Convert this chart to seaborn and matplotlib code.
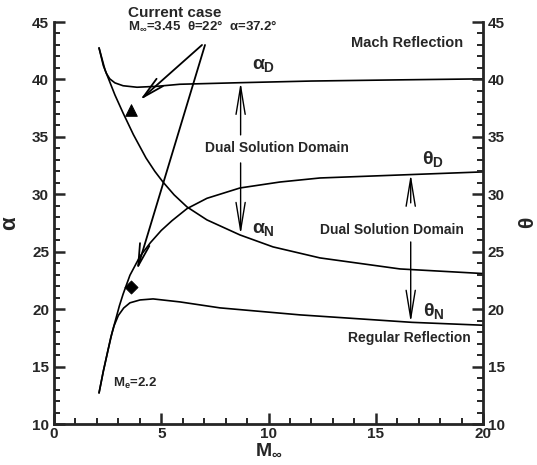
import matplotlib
matplotlib.use("Agg")
import matplotlib.pyplot as plt
from matplotlib.ticker import MultipleLocator
import seaborn as sns
import pandas as pd

# ---------------- data ----------------
alphaD_M = [2.10, 2.30, 2.45, 2.60, 2.84, 3.22, 3.87, 4.80, 5.87, 8.76, 12.0, 16.0, 20.0]
alphaD_v = [42.74, 41.20, 40.50, 40.05, 39.70, 39.45, 39.32, 39.40, 39.58, 39.72, 39.86, 39.96, 40.05]

alphaN_M = [2.10, 2.38, 2.84, 3.22, 3.70, 4.29, 4.70, 5.08, 5.60, 6.20, 7.13, 8.67, 10.21, 12.40, 16.13, 20.0]
alphaN_v = [42.74, 40.82, 38.65, 37.08, 35.20, 33.16, 32.00, 31.07, 29.95, 28.90, 27.77, 26.46, 25.42, 24.46, 23.50, 23.10]

thetaD_M = [2.10, 2.30, 2.52, 2.70, 2.89, 3.05, 3.22, 3.54, 4.01, 4.50, 5.00, 5.50, 6.20, 7.13, 8.67, 10.54, 12.40, 16.69, 20.0]
thetaD_v = [12.71, 14.60, 16.45, 17.90, 19.20, 20.30, 21.30, 22.95, 24.60, 25.80, 26.85, 27.70, 28.75, 29.65, 30.55, 31.07, 31.42, 31.72, 31.95]

thetaN_M = [2.10, 2.30, 2.52, 2.65, 2.80, 3.00, 3.25, 3.54, 4.01, 4.62, 5.87, 7.74, 11.47, 16.69, 20.0]
thetaN_v = [12.71, 14.60, 16.45, 17.55, 18.55, 19.45, 20.10, 20.55, 20.80, 20.89, 20.63, 20.11, 19.50, 18.85, 18.60]

case_M = [3.6]
case_alpha = [37.35]
case_theta = [21.9]

x_ticks = [0, 5, 10, 15, 20]
y_ticks = [10, 15, 20, 25, 30, 35, 40, 45]

# ---------------- styling ----------------
sns.set_style("ticks")
plt.rcParams["font.family"] = ["Liberation Sans", "DejaVu Sans"]
plt.rcParams["font.weight"] = "bold"
plt.rcParams["mathtext.fontset"] = "custom"
plt.rcParams["mathtext.rm"] = "Liberation Sans"
plt.rcParams["mathtext.it"] = "Liberation Sans"
plt.rcParams["mathtext.bf"] = "Liberation Sans:bold"

fig = plt.figure(figsize=(5.37, 4.65), dpi=100)
ax = fig.add_axes([54 / 537, 1 - 424 / 465, (483 - 54) / 537, (424 - 22) / 465])

curves = [(alphaD_M, alphaD_v), (alphaN_M, alphaN_v), (thetaD_M, thetaD_v), (thetaN_M, thetaN_v)]
for xs, ys in curves:
    df = pd.DataFrame({"M": xs, "v": ys})
    sns.lineplot(data=df, x="M", y="v", sort=False, estimator=None, color="black",
                 linewidth=1.2, ax=ax)

sns.scatterplot(x=case_M, y=case_alpha, marker="^", s=70, color="black", edgecolor="black", ax=ax, zorder=5)
sns.scatterplot(x=case_M, y=case_theta, marker="D", s=45, color="black", edgecolor="black", ax=ax, zorder=5)

ax.set_xlim(0, 20)
ax.set_ylim(10, 45)
ax.set_xticks(x_ticks)
ax.set_yticks(y_ticks)
ax.xaxis.set_minor_locator(MultipleLocator(1))
ax.yaxis.set_minor_locator(MultipleLocator(1))
ax.spines["top"].set_visible(False)
for s in ["left", "right", "bottom"]:
    ax.spines[s].set_linewidth(2.0)
ax.tick_params(which="major", direction="in", length=8, width=1.8, labelsize=11)
ax.tick_params(which="minor", direction="in", length=4.5, width=1.4)
ax.tick_params(axis="y", which="both", right=True)
ax.tick_params(axis="x", which="both", top=False)
ax.tick_params(axis="x", pad=2)

ax2 = ax.twinx()
ax2.set_ylim(10, 45)
ax2.set_yticks(y_ticks)
ax2.yaxis.set_minor_locator(MultipleLocator(1))
ax2.spines["top"].set_visible(False)
ax2.tick_params(which="major", direction="in", length=8, width=1.8, labelsize=11)
ax2.tick_params(which="minor", direction="in", length=4.5, width=1.4)
ax2.set_ylabel(r"$\theta$", fontsize=15, rotation=90, labelpad=10)

ax.set_xlabel(r"M$_\infty$", fontsize=14, labelpad=1, fontweight="bold")
ax.set_ylabel(r"$\alpha$", fontsize=16, labelpad=8)

# ---------------- annotations ----------------
ax.text(3.45, 45.78, "Current case", fontsize=11, fontweight="bold", va="center", ha="left", clip_on=False)
ax.text(3.45, 44.62, r"M$_\infty$=3.45  $\theta$=22°  $\alpha$=37.2°", fontsize=9.5,
        fontweight="bold", va="center", ha="left", clip_on=False)

arr_case = dict(arrowstyle="->,head_length=1.6,head_width=0.35", color="black", lw=1.3,
                mutation_scale=10, shrinkA=0, shrinkB=0)
ax.annotate("", xy=(4.01, 38.21), xytext=(6.9, 43.0), arrowprops=arr_case)
ax.annotate("", xy=(3.87, 23.42), xytext=(7.04, 43.0), arrowprops=arr_case)

arr_dom = dict(arrowstyle="->,head_length=2.0,head_width=0.33", color="black", lw=1.0,
               mutation_scale=10, shrinkA=0, shrinkB=0)
ax.annotate("", xy=(8.7, 39.75), xytext=(8.7, 35.17), arrowprops=arr_dom)
ax.annotate("", xy=(8.7, 26.5), xytext=(8.7, 32.73), arrowprops=arr_dom)
ax.annotate("", xy=(16.63, 31.75), xytext=(16.63, 29.25), arrowprops=arr_dom)
ax.annotate("", xy=(16.63, 18.85), xytext=(16.63, 25.85), arrowprops=arr_dom)

ax.text(7.04, 34.03, "Dual Solution Domain", fontsize=10, fontweight="bold", va="center", ha="left")
ax.text(12.4, 26.9, "Dual Solution Domain", fontsize=10, fontweight="bold", va="center", ha="left")
ax.text(19.07, 43.15, "Mach Reflection", fontsize=10.5, fontweight="bold", va="center", ha="right")
ax.text(19.44, 17.5, "Regular Reflection", fontsize=10, fontweight="bold", va="center", ha="right")
ax.text(2.75, 13.54, r"M$_e$=2.2", fontsize=9.5, fontweight="bold", va="center", ha="left")

ax.text(9.23, 41.2, r"$\alpha_D$", fontsize=14, va="center", ha="left")
ax.text(9.23, 26.9, r"$\alpha_N$", fontsize=14, va="center", ha="left")
ax.text(17.16, 33.08, r"$\theta_D$", fontsize=14, va="center", ha="left")
ax.text(17.2, 19.85, r"$\theta_N$", fontsize=14, va="center", ha="left")

fig.savefig("out.png", dpi=100)
